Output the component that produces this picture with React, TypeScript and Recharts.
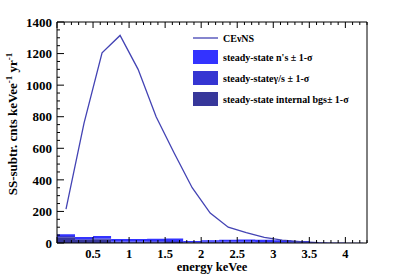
import {
  ComposedChart,
  Line,
  Area,
  XAxis,
  YAxis,
  Label,
} from "recharts";

// CEvNS prediction, at bin centres (keVee)
const energyCenters = [0.125, 0.375, 0.625, 0.875, 1.125, 1.375, 1.625, 1.875, 2.125, 2.375, 2.625, 2.875, 3.125, 3.375, 3.625];
const cevnsCounts = [215, 760, 1205, 1315, 1100, 800, 570, 350, 190, 100, 65, 35, 18, 8, 3];

// steady-state backgrounds, per bin (left edges)
const binEdges = [0, 0.25, 0.5, 0.75, 1, 1.25, 1.5, 1.75, 2, 2.25, 2.5, 2.75, 3, 3.25, 3.5, 3.75, 4, 4.25];
const neutronBg = [10, 12, 15, 15, 15, 16, 16, 6, 10, 12, 14, 13, 12, 8, 3, 2, 1, 1];
const gammaBg = [8, 6, 6, 5, 5, 6, 6, 3, 4, 4, 4, 4, 3, 2, 1, 1, 1, 1];
const internalBg = [37, 20, 23, 5, 5, 5, 6, 3, 4, 4, 4, 3, 3, 2, 1, 0, 0, 0];

const xTicks = [0.5, 1, 1.5, 2, 2.5, 3, 3.5, 4];
const yTicks = [0, 200, 400, 600, 800, 1000, 1200, 1400];

const FONT = "'Liberation Serif', 'DejaVu Serif', serif";
const LINE_COLOR = "#4343b4";
const N_COLOR = "#3333ff";
const G_COLOR = "#3535d2";
const I_COLOR = "#37379a";

const cevnsData = energyCenters.map((e, i) => ({ e, v: cevnsCounts[i] }));
const bgData = binEdges.map((e, i) => ({
  e,
  n: neutronBg[i],
  g: gammaBg[i],
  i: internalBg[i],
}));

const xMinor: number[] = [];
for (let k = 0; k <= 43; k++) xMinor.push(k / 10);
const yMinor: number[] = [];
for (let k = 0; k <= 28; k++) yMinor.push(k * 50);

const isMajorX = (v: number) => Math.abs(v * 2 - Math.round(v * 2)) < 1e-6;

function BottomTick(props: any) {
  const { x, y, payload } = props;
  const v = payload.value;
  const major = isMajorX(v);
  const label = xTicks.includes(Math.round(v * 10) / 10);
  return (
    <g>
      <line x1={x} x2={x} y1={y} y2={y - (major ? 6 : 3)} stroke="#000" strokeWidth={1} />
      {label && (
        <text x={x} y={y + 15} textAnchor="middle" fontFamily={FONT} fontWeight="bold" fontSize={12.5} fill="#000">
          {String(v)}
        </text>
      )}
    </g>
  );
}

function TopTick(props: any) {
  const { x, y, payload } = props;
  const major = isMajorX(payload.value);
  return <line x1={x} x2={x} y1={y} y2={y + (major ? 6 : 3)} stroke="#000" strokeWidth={1} />;
}

function LeftTick(props: any) {
  const { x, y, payload } = props;
  const v = payload.value;
  const major = v % 200 === 0;
  return (
    <g>
      <line x1={x} x2={x + (major ? 7 : 3)} y1={y} y2={y} stroke="#000" strokeWidth={1} />
      {major && yTicks.includes(v) && (
        <text x={x - 5} y={y} dy="0.36em" textAnchor="end" fontFamily={FONT} fontWeight="bold" fontSize={13} fill="#000">
          {v}
        </text>
      )}
    </g>
  );
}

function YTitle() {
  return (
    <text
      x={17}
      y={124}
      transform="rotate(-90, 17, 124)"
      textAnchor="middle"
      fontFamily={FONT}
      fontWeight="bold"
      fontSize={13}
      fill="#000"
    >
      SS-subtr. cnts keVee
      <tspan fontSize={9} dy={-5}>-1</tspan>
      <tspan dy={5}> yr</tspan>
      <tspan fontSize={9} dy={-5}>-1</tspan>
    </text>
  );
}

const legendItems = [
  { label: "steady-state n's \u00b1 1-\u03c3", color: N_COLOR },
  { label: "steady-state\u03b3/s \u00b1 1-\u03c3", color: G_COLOR },
  { label: "steady-state internal bgs\u00b1 1-\u03c3", color: I_COLOR },
];

export default function App() {
  return (
    <div style={{ position: "fixed", left: 0, top: 0, width: 408, height: 277, background: "#fff" }}>
      <ComposedChart
        width={408}
        height={277}
        data={bgData}
        margin={{ top: 21, right: 40, bottom: 0, left: 0 }}
      >
        <XAxis
          dataKey="e"
          type="number"
          domain={[0, 4.3]}
          allowDataOverflow
          ticks={xMinor}
          interval={0}
          tickSize={0}
          tickMargin={0}
          tickLine={false}
          tick={<BottomTick />}
          height={34}
          axisLine={{ stroke: "#000" }}
        >
          <Label
            content={() => (
              <text x={212} y={271} textAnchor="middle" fontFamily={FONT} fontWeight="bold" fontSize={12.5} fill="#000">
                energy keVee
              </text>
            )}
          />
        </XAxis>
        <XAxis
          xAxisId="top"
          orientation="top"
          dataKey="e"
          type="number"
          domain={[0, 4.3]}
          allowDataOverflow
          ticks={xMinor}
          interval={0}
          tickSize={0}
          tickMargin={0}
          tickLine={false}
          tick={<TopTick />}
          height={1}
          axisLine={{ stroke: "#000" }}
        />
        <YAxis
          type="number"
          domain={[0, 1400]}
          allowDataOverflow
          ticks={yMinor}
          interval={0}
          tickSize={0}
          tickMargin={0}
          tickLine={false}
          tick={<LeftTick />}
          width={57}
          axisLine={{ stroke: "#000" }}
        >
          <Label content={() => <YTitle />} />
        </YAxis>
        <YAxis
          yAxisId="right"
          orientation="right"
          type="number"
          domain={[0, 1400]}
          tick={false}
          tickLine={false}
          width={1}
          axisLine={{ stroke: "#000" }}
        />
        <Area
          dataKey="i"
          stackId="bg"
          type="stepAfter"
          fill={I_COLOR}
          fillOpacity={1}
          stroke="none"
          isAnimationActive={false}
        />
        <Area
          dataKey="g"
          stackId="bg"
          type="stepAfter"
          fill={G_COLOR}
          fillOpacity={1}
          stroke="none"
          isAnimationActive={false}
        />
        <Area
          dataKey="n"
          stackId="bg"
          type="stepAfter"
          fill={N_COLOR}
          fillOpacity={1}
          stroke="none"
          isAnimationActive={false}
        />
        <Line
          data={cevnsData}
          dataKey="v"
          type="linear"
          stroke={LINE_COLOR}
          strokeWidth={1.3}
          dot={false}
          isAnimationActive={false}
        />
      </ComposedChart>
      <div
        style={{
          position: "absolute",
          left: 193,
          top: 30,
          fontFamily: FONT,
          fontWeight: "bold",
          fontSize: 10,
          color: "#000",
          background: "#fff",
        }}
      >
        <div style={{ display: "flex", alignItems: "center", height: 16 }}>
          <svg width={25} height={16}>
            <line x1={0} x2={25} y1={8} y2={8} stroke={LINE_COLOR} strokeWidth={1.3} />
          </svg>
          <span style={{ marginLeft: 5 }}>CE&nu;NS</span>
        </div>
        {legendItems.map((it) => (
          <div key={it.label} style={{ display: "flex", alignItems: "center", height: 20, marginTop: 1 }}>
            <svg width={25} height={14}>
              <rect x={0} y={0} width={25} height={14} fill={it.color} />
            </svg>
            <span style={{ marginLeft: 5, whiteSpace: "nowrap" }}>{it.label}</span>
          </div>
        ))}
      </div>
    </div>
  );
}
